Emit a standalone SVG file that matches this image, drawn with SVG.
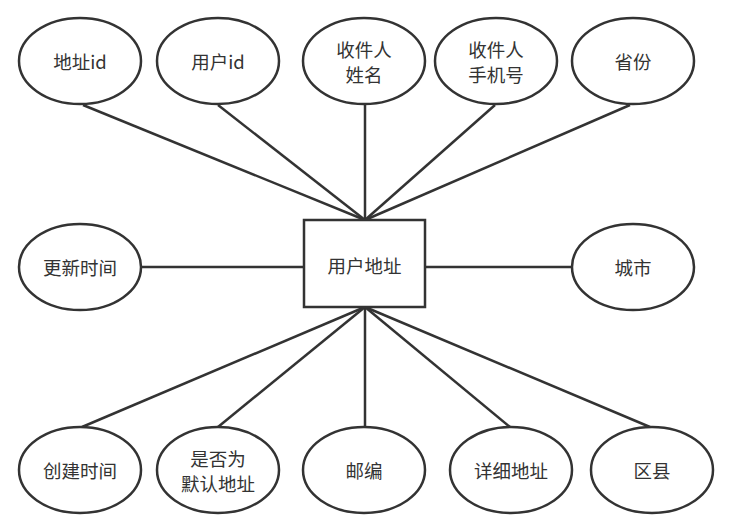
<svg xmlns="http://www.w3.org/2000/svg" width="734" height="531" viewBox="0 0 734 531">
<style>
.n{fill:#fff;stroke:#333;stroke-width:2.5}
.c{stroke:#333;stroke-width:2.5;fill:none}
text{font-family:"Noto Sans CJK SC","Liberation Sans",sans-serif;font-size:18.5px;fill:#333;text-anchor:middle;dominant-baseline:central}
</style>
<rect width="734" height="531" fill="#fff"/>
<g id="connectors">
<line class="c" x1="83" y1="105" x2="365" y2="220"/>
<line class="c" x1="218" y1="105" x2="365" y2="220"/>
<line class="c" x1="365" y1="105" x2="365" y2="220"/>
<line class="c" x1="495" y1="105" x2="365" y2="220"/>
<line class="c" x1="630" y1="105" x2="365" y2="220"/>
<line class="c" x1="141" y1="267" x2="304" y2="267"/>
<line class="c" x1="425" y1="267" x2="573" y2="267"/>
<line class="c" x1="82" y1="427" x2="365" y2="307"/>
<line class="c" x1="218" y1="427" x2="365" y2="307"/>
<line class="c" x1="365" y1="427" x2="365" y2="307"/>
<line class="c" x1="510" y1="427" x2="365" y2="307"/>
<line class="c" x1="650" y1="427" x2="365" y2="307"/>
</g>
<g id="entity"><rect class="n" x="304" y="220" width="121" height="87"/><text x="364.5" y="265">用户地址</text></g>
<g id="a1"><ellipse class="n" cx="80" cy="61" rx="61" ry="43"/><text x="80" y="61">地址id</text></g>
<g id="a2"><ellipse class="n" cx="218" cy="61" rx="61" ry="43"/><text x="218" y="61">用户id</text></g>
<g id="a3"><ellipse class="n" cx="364" cy="61" rx="61" ry="43"/><text x="364" y="49">收件人</text><text x="364" y="74">姓名</text></g>
<g id="a4"><ellipse class="n" cx="496" cy="61" rx="61" ry="43"/><text x="496" y="49">收件人</text><text x="496" y="74">手机号</text></g>
<g id="a5"><ellipse class="n" cx="633" cy="61" rx="61" ry="43"/><text x="633" y="61">省份</text></g>
<g id="a6"><ellipse class="n" cx="80" cy="267" rx="61" ry="43"/><text x="80" y="267">更新时间</text></g>
<g id="a7"><ellipse class="n" cx="633" cy="267" rx="61" ry="43"/><text x="633" y="267">城市</text></g>
<g id="a8"><ellipse class="n" cx="80" cy="470" rx="61" ry="43"/><text x="80" y="470">创建时间</text></g>
<g id="a9"><ellipse class="n" cx="218" cy="470" rx="61" ry="43"/><text x="218" y="458">是否为</text><text x="218" y="483">默认地址</text></g>
<g id="a10"><ellipse class="n" cx="364" cy="470" rx="61" ry="43"/><text x="364" y="470">邮编</text></g>
<g id="a11"><ellipse class="n" cx="511" cy="470" rx="61" ry="43"/><text x="511" y="470">详细地址</text></g>
<g id="a12"><ellipse class="n" cx="652" cy="470" rx="61" ry="43"/><text x="652" y="470">区县</text></g>
</svg>
